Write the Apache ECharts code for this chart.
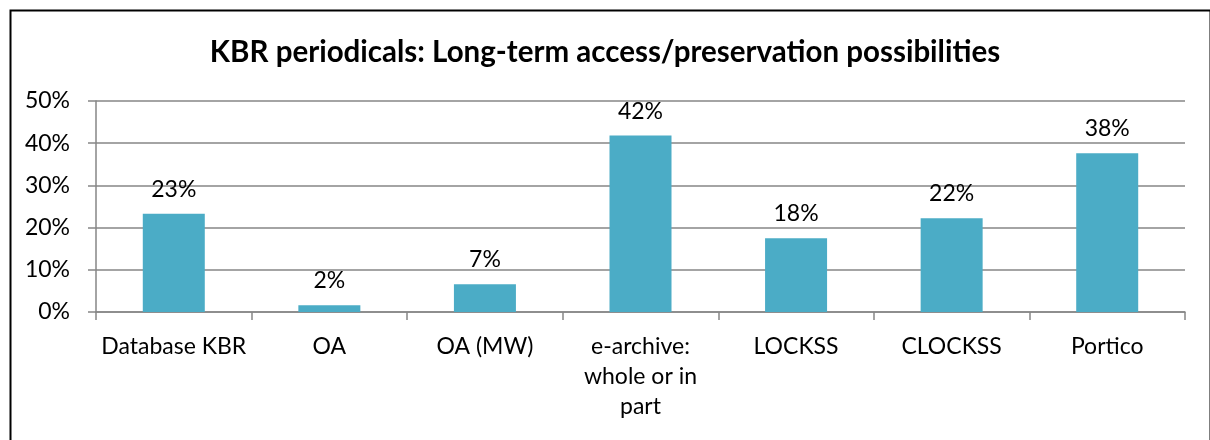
<!DOCTYPE html>
<html><head><meta charset="utf-8">
<script src="https://cdn.jsdelivr.net/npm/echarts@6/dist/echarts.min.js"></script>
<style>html,body{margin:0;padding:0;background:#fff}#c{width:1210px;height:440px}</style>
</head><body><div id="c"></div>
<script>
var categories = ['Database KBR', 'OA', 'OA (MW)', 'e-archive:\nwhole or in\npart', 'LOCKSS', 'CLOCKSS', 'Portico'];
var shares = [23.3, 1.6, 6.6, 41.8, 17.5, 22.2, 37.6];
var yTicks = [0, 10, 20, 30, 40, 50];
var titleText = 'KBR periodicals: Long-term access/preservation possibilities';

var FONT = 'Lato';
var chart = echarts.init(document.getElementById('c'), null, {renderer: 'canvas'});
chart.setOption({
  animation: false,
  backgroundColor: '#fff',
  title: {
    text: titleText, left: 'center', top: 32,
    textStyle: {fontFamily: FONT, fontWeight: 'bold', fontSize: 29.5, color: '#000'}
  },
  graphic: [{
    type: 'rect', left: 8, top: 8, z: 100,
    shape: {width: 1200, height: 440},
    style: {fill: 'none', stroke: '#000', lineWidth: 2}
  }],
  grid: {left: 96, right: 25, top: 101, bottom: 128, containLabel: false},
  xAxis: {
    type: 'category', data: categories,
    axisLine: {lineStyle: {color: '#868686', width: 1.5}},
    axisTick: {show: true, length: 8, lineStyle: {color: '#868686', width: 1.5}, alignWithLabel: false},
    axisLabel: {fontFamily: FONT, fontSize: 23, color: '#000', margin: 20, lineHeight: 30, interval: 0}
  },
  yAxis: {
    type: 'value', min: yTicks[0], max: yTicks[yTicks.length - 1], interval: 10,
    axisLine: {show: true, lineStyle: {color: '#868686', width: 1.5}},
    axisTick: {show: true, inside: false, length: 8, lineStyle: {color: '#868686', width: 1.5}},
    splitLine: {show: true, lineStyle: {color: '#868686', width: 1.5}},
    axisLabel: {fontFamily: FONT, fontSize: 23, color: '#000', margin: 26,
      formatter: function (v) { return v + '%'; }}
  },
  series: [{
    type: 'bar', data: shares, barWidth: 62,
    itemStyle: {color: '#4BACC6'},
    label: {show: true, position: 'top', distance: 13, fontFamily: FONT, fontSize: 23, color: '#000',
      formatter: function (p) { return Math.round(p.value) + '%'; }}
  }]
});
</script></body></html>
